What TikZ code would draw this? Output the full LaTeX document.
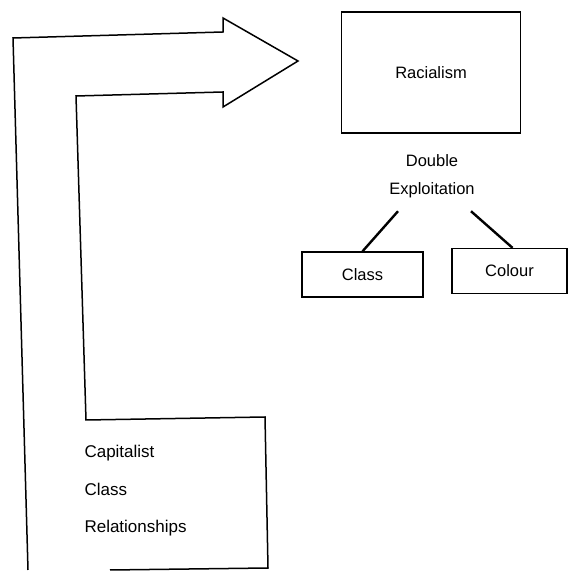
\documentclass[tikz,border=0pt]{standalone}
\usepackage{fontspec}
\setmainfont{Liberation Sans}
\usepackage{tikz}
\tikzstyle{bigbox} = [rectangle,
minimum width=179pt,
minimum height=121pt,
text centered,
line width=1.3pt,
draw=black]
\tikzstyle{smallbox} = [rectangle,
minimum height=45pt,
text centered,
line width=1.3pt,
draw=black]
\tikzstyle{plain} = [align=center, font=\fontsize{16.5}{28}\selectfont]
\tikzstyle{link} = [line width=2.4pt]

\begin{document}
\begin{tikzpicture}[x=1pt, y=1pt, node distance=100pt, font=\fontsize{16.5}{19}\selectfont]
\useasboundingbox (0,0) rectangle (568,572);

% the big bent arrow
\draw [line width=1.5pt, line join=miter]
  (28,2) -- (13,534) -- (223,540) -- (223,554) -- (298,511) -- (223,465)
  -- (223,480) -- (76,476) -- (86,152) -- (265,155) -- (268,4) -- (110,2);

\node (capital) [anchor=west, align=left, font=\fontsize{17}{37.5}\selectfont] at (81,81) {Capitalist\\Class\\Relationships};

\node (racial) [bigbox] at (431,499.5) {Racialism};

\node (exploit) [plain, below of=racial, xshift=1pt, yshift=-3.5pt] {Double\\Exploitation};

\node (class) [smallbox, minimum width=121pt, below of=exploit, xshift=-69.5pt, yshift=1.5pt] {Class};
\node (colour) [smallbox, minimum width=115pt, below of=exploit, xshift=77.5pt, yshift=5pt] {Colour};

\draw [link] ([xshift=-34pt,yshift=-10pt]exploit.south) -- (class.north);
\draw [link] ([xshift=39pt,yshift=-10pt]exploit.south) -- ([xshift=3pt]colour.north);

\end{tikzpicture}
\end{document}
